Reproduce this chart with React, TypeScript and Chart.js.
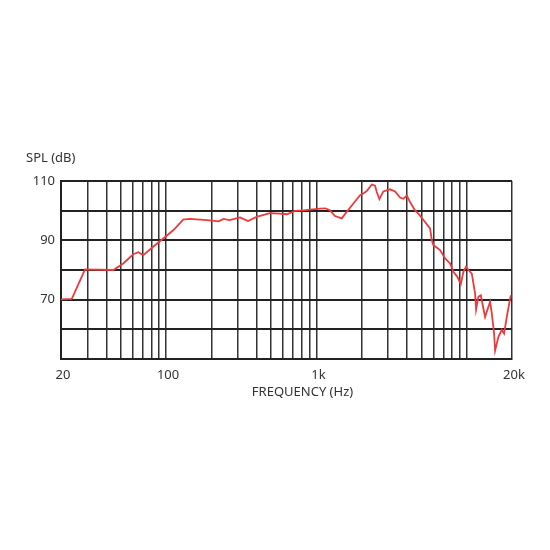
import React, { useEffect, useRef } from "react";
import { Chart, registerables } from "chart.js";

Chart.register(...registerables);

// Frequency response data (Hz, dB SPL)
const frequencies = [
  20, 23.6, 28.9, 44.6, 51.9, 60.5, 65.4, 70.5, 82.8, 99, 111.6, 130, 144, 187, 224, 241, 264,
  311, 351, 400, 490, 571, 636, 722, 818, 1057, 1144, 1232, 1330, 1474, 1592, 1762, 1952, 2052,
  2162, 2336, 2456, 2520, 2624, 2788, 3090, 3336, 3602, 3788, 3992, 4198, 4532, 4768, 5282, 5704,
  5854, 5998, 6648, 7176, 7750, 8150, 8664, 9128, 9498, 9900, 10256, 10804, 11364, 11538, 11952,
  12400, 13244, 14300, 14676, 15202, 15440, 16240, 17104, 17720, 18636, 19634,
];
const splValues = [
  70.1, 70.3, 80.2, 80, 82.2, 85.3, 86, 85, 88, 91.2, 93.4, 97, 97.2, 96.8, 96.4, 97.2, 96.8,
  97.7, 96.5, 97.9, 99.2, 99, 98.8, 99.9, 100.1, 100.7, 100.8, 100.1, 98.2, 97.4, 99.6, 102.4,
  105.2, 105.8, 106.6, 108.8, 108.4, 106.3, 103.9, 106.5, 107.2, 106.5, 104.4, 104, 105.1, 102.9,
  100.1, 99, 96.2, 94, 90, 88.4, 86.7, 83.9, 82.2, 79.4, 77.7, 75.2, 79.4, 81.1, 80, 78.8, 72.1,
  66.7, 71, 71.5, 64.2, 69.3, 65.4, 58.6, 52.8, 57.5, 59.8, 58.6, 65.4, 71.5,
];

// Axis ticks
const xGridFreqs = [
  20, 30, 40, 50, 60, 70, 80, 90, 100, 200, 300, 400, 500, 600, 700, 800, 900, 1000, 2000, 3000,
  4000, 5000, 6000, 7000, 8000, 9000, 10000, 20000,
];
const xTickValues = [20, 100, 1000, 20000];
const xTickLabels = ["20", "100", "1k", "20k"];
const yTickLabels = [110, 90, 70];

const yAxisTitle = "SPL (dB)";
const xAxisTitle = "FREQUENCY (Hz)";

const FONT = "'Noto Sans', 'Open Sans', sans-serif";
const TEXT_COLOR = "#333";

const titlesPlugin = {
  id: "axisTitles",
  afterDraw(chart: any) {
    const { ctx, chartArea } = chart;
    ctx.save();
    ctx.font = `13px ${FONT}`;
    ctx.fillStyle = TEXT_COLOR;
    ctx.textBaseline = "middle";
    ctx.textAlign = "left";
    ctx.fillText(yAxisTitle, chartArea.left - 35, chartArea.top - 23);
    ctx.textAlign = "center";
    ctx.fillText(xAxisTitle, (chartArea.left + chartArea.right) / 2 + 16, chartArea.bottom + 33);
    ctx.restore();
  },
};

export default function App() {
  const canvasRef = useRef<HTMLCanvasElement | null>(null);

  useEffect(() => {
    if (!canvasRef.current) return;
    const chart = new Chart(canvasRef.current, {
      type: "line",
      data: {
        datasets: [
          {
            data: frequencies.map((f, i) => ({ x: f, y: splValues[i] })),
            borderColor: "#ee3a3a",
            borderWidth: 1.8,
            pointRadius: 0,
            tension: 0,
            fill: false,
          },
        ],
      },
      options: {
        animation: false,
        responsive: false,
        events: [],
        layout: { padding: { top: 181, left: 0, right: 38, bottom: 151 } },
        plugins: {
          legend: { display: false },
          tooltip: { enabled: false },
          title: { display: false },
        },
        scales: {
          x: {
            type: "logarithmic",
            min: 20,
            max: 20000,
            afterBuildTicks: (scale: any) => {
              scale.ticks = xGridFreqs.map((v) => ({ value: v }));
            },
            afterFit: (scale: any) => {
              scale.height = 40;
            },
            grid: { color: "#333", lineWidth: 1.5, drawTicks: false },
            border: { color: "#222", width: 2 },
            ticks: {
              autoSkip: false,
              maxRotation: 0,
              padding: 8,
              labelOffset: 2,
              color: TEXT_COLOR,
              font: { family: FONT, size: 13 },
              callback: (v: any) => {
                const idx = xTickValues.indexOf(Number(v));
                return idx >= 0 ? xTickLabels[idx] : "";
              },
            },
            title: { display: false },
          },
          y: {
            type: "linear",
            min: 50,
            max: 110,
            afterFit: (scale: any) => {
              scale.width = 61;
            },
            grid: { color: "#222", lineWidth: 2, drawTicks: false },
            border: { color: "#222", width: 2 },
            ticks: {
              stepSize: 10,
              padding: 6,
              color: TEXT_COLOR,
              font: { family: FONT, size: 13 },
              callback: (v: any) => (yTickLabels.includes(Number(v)) ? String(v) : ""),
            },
          },
        },
      },
      plugins: [titlesPlugin],
    });
    return () => chart.destroy();
  }, []);

  return (
    <div style={{ position: "absolute", left: 0, top: 0, width: 550, height: 550, background: "#fff" }}>
      <canvas ref={canvasRef} width={550} height={550} />
    </div>
  );
}
